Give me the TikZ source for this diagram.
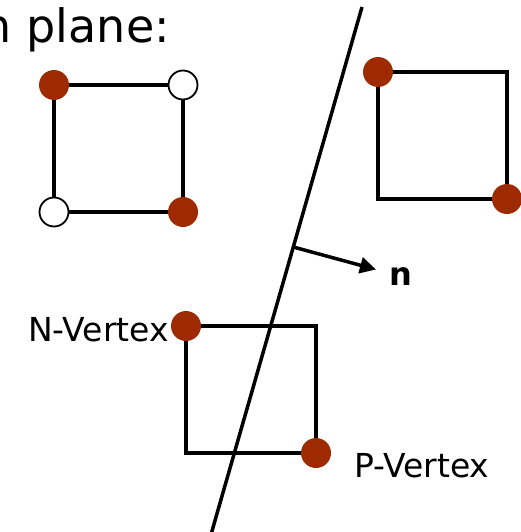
\documentclass[tikz,border=0pt]{standalone}
\usepackage{fontspec}
\setmainfont{DejaVu Sans}
\usetikzlibrary{arrows.meta,calc}
\definecolor{vred}{RGB}{157,42,0}
\begin{document}
\begin{tikzpicture}[x=1pt,y=-1pt,
  edge/.style={line width=3.5pt,line join=miter},
  pdot/.style={circle,fill=vred,minimum size=30pt,inner sep=0pt},
  odot/.style={circle,draw=black,line width=1.8pt,fill=white,minimum size=29pt,inner sep=0pt},
  lbl/.style={inner sep=0pt,font=\fontsize{33}{38}\selectfont}]
\useasboundingbox (0,0) rectangle (521,532);
\clip (0,0) rectangle (521,532);
% title
\node[inner sep=0pt,anchor=base east,font=\fontsize{46}{54}\selectfont] (title) at (170,43) {n plane:};
% square 1
\coordinate (a1) at (54,85); \coordinate (b1) at (183,85);
\coordinate (c1) at (183,212); \coordinate (d1) at (54,212);
\draw[edge] (a1) -- (b1) -- (c1) -- (d1) -- cycle;
\node[pdot] (a1d) at (a1) {};
\node[odot] (b1d) at (b1) {};
\node[pdot] (c1d) at (c1) {};
\node[odot] (d1d) at (d1) {};
% square 2
\coordinate (a2) at (378,72); \coordinate (b2) at (507,72);
\coordinate (c2) at (507,199); \coordinate (d2) at (378,199);
\draw[edge] (a2) -- (b2) -- (c2) -- (d2) -- cycle;
\node[pdot] (a2d) at (a2) {};
\node[pdot] (c2d) at (c2) {};
% square 3
\coordinate (a3) at (186,326); \coordinate (b3) at (316,326);
\coordinate (c3) at (316,453); \coordinate (d3) at (186,453);
\draw[edge] (a3) -- (b3) -- (c3) -- (d3) -- cycle;
% plane
\coordinate (ptop) at (362,7);
\coordinate (pbot) at (210,538);
\draw[line width=3.5pt] (ptop) -- (pbot);
\coordinate (nbase) at ($(ptop)!0.452!(pbot)$);
\coordinate (ntip) at (376,269.5);
\draw[line width=3.5pt,-{Triangle[length=16pt,width=16pt]}] (nbase) -- (ntip);
\node[inner sep=0pt,anchor=base west,font=\fontsize{32}{38}\selectfont\bfseries] (nlab) at (389,285) {n};
% dots square 3
\node[pdot] (a3d) at (a3) {};
\node[pdot] (c3d) at (c3) {};
\node[lbl,anchor=base east] (nv) at (169,341) {N-Vertex};
\node[lbl,anchor=base west] (pv) at (354,477) {P-Vertex};
\end{tikzpicture}
\end{document}
